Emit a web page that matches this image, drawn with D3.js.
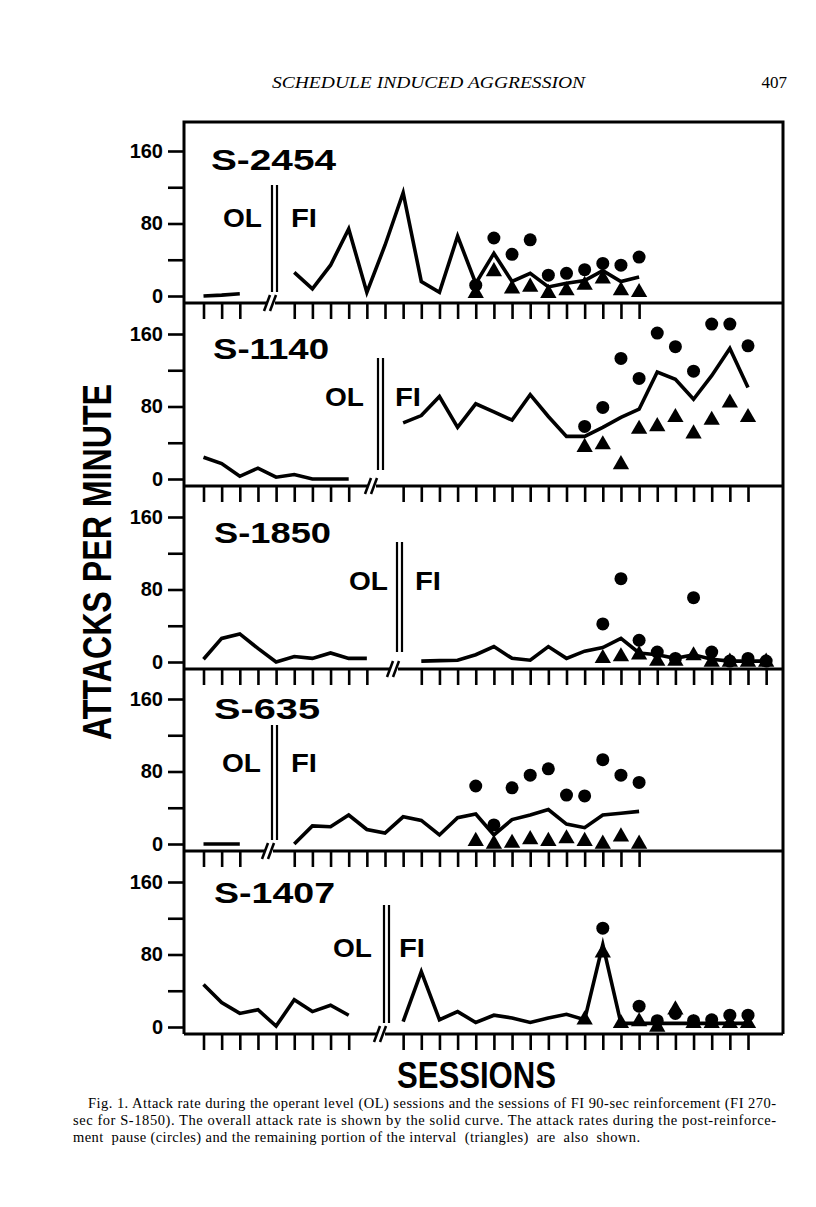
<!DOCTYPE html>
<html><head><meta charset="utf-8">
<script src="https://cdn.jsdelivr.net/npm/d3@7"></script>
<style>body{margin:0;background:#fff}</style>
</head><body><svg id="c" width="816" height="1207"></svg>
<script>
// ---------------- DATA ----------------
const subjects = ["S-2454", "S-1140", "S-1850", "S-635", "S-1407"];
// session index of first FI session and of first circle/triangle session
const fiStart  = [5, 11, 12, 5, 11];
const dotStart = [15, 21, 22, 15, 21];

// overall attack rate, operant level sessions
const ol_2454 = [0, 1, 2.5];
const ol_1140 = [24, 17, 3, 12, 2, 5, 0, 0, 0];
const ol_1850 = [3, 26, 31, 15, 0, 6, 4, 10, 4, 4];
const ol_635  = [0, 0, 0];
const ol_1407 = [47, 27, 15, 19, 1, 30, 17, 24, 13];

// overall attack rate, FI sessions
const fi_2454 = [26, 8, 34, 74, 4, 56, 114, 16, 4, 66, 14, 47, 16, 25, 10, 14, 17, 28, 16, 21];
const fi_1140 = [62, 70, 91, 57, 83, 74, 65, 93, 69, 47, 47, 57, 68, 77, 118, 110, 88, 114, 144, 101];
const fi_1850 = [1, 1.5, 2, 8, 17, 4, 2, 17, 4, 12, 16, 26, 10, 8, 4, 8, 3, 1, 1, 1];
const fi_635  = [0, 20, 19, 32, 16, 12, 30, 26, 10, 29, 33, 10, 27, 32, 38, 22, 18, 32, 34, 36];
const fi_1407 = [6, 61, 8, 17, 5, 13, 10, 5, 10, 14, 8, 91, 4, 4, 4, 4, 4, 4, 4, 4];

// post-reinforcement pause rate (circles)
const pause_2454 = [12, 64, 46, 62, 23, 25, 29, 36, 34, 43];
const pause_1140 = [58, 79, 133, 111, 161, 146, 119, 171, 171, 147];
const pause_1850 = [42, 92, 24, 11, 4, 71, 11, 1, 4, 1];
const pause_635  = [64, 21, 62, 76, 83, 54, 53, 93, 76, 68];
const pause_1407 = [null, 109, null, 23, 7, 15, 7, 8, 13, 13];

// remaining portion of interval (triangles)
const rest_2454 = [3, 27, 8, 10, 3, 6, 12, 19, 6, 4];
const rest_1140 = [35, 38, 16, 55, 58, 68, 50, 65, 84, 68];
const rest_1850 = [4, 6, 8, 1, 1, 7, 0, 0, 0, 0];
const rest_635  = [3, 0, 1, 5, 3, 6, 3, 0, 8, 0];
const rest_1407 = [8, 82, 4, 6, 0, 19, 4, 4, 4, 4];

const yTicks = [0, 40, 80, 120, 160];
const yTickLabels = ["0", "", "80", "", "160"];

const olSeries = [ol_2454, ol_1140, ol_1850, ol_635, ol_1407];
const fiSeries = [fi_2454, fi_1140, fi_1850, fi_635, fi_1407];
const pauseSeries = [pause_2454, pause_1140, pause_1850, pause_635, pause_1407];
const restSeries = [rest_2454, rest_1140, rest_1850, rest_635, rest_1407];

// ---------------- LAYOUT ----------------
const frameL = 184, frameR = 783, frameT = 122;
const bottoms = [303, 486, 669, 851, 1034];
const labelPos = [[211, 170, 125], [213, 359, 116], [214, 543, 117], [214, 719, 106], [214, 903, 121]];
const olPos = [[223, 227], [325, 406], [349, 590], [222, 772], [333, 957]];
const fiPos = [[291, 227], [395, 406], [415, 590], [291, 772], [399, 957]];
const dblPos = [[272, 185, 292], [378, 358, 470], [397, 542, 652], [272, 725, 840], [384, 905, 1023]];
const breakX = [272, 373, 395, 270, 382];

const svg = d3.select("#c");
svg.append("rect").attr("width", 816).attr("height", 1207).attr("fill", "#fff");

const x = d3.scaleLinear().domain([0, 31]).range([203.5, 203.5 + 31 * 18.15]);
const LF = "'Liberation Sans', Arial, sans-serif";

// header
svg.append("text").attr("x", 272).attr("y", 88).attr("textLength", 313).attr("lengthAdjust", "spacingAndGlyphs")
  .attr("font-family", "'Liberation Serif', serif").attr("font-style", "italic").attr("font-size", 17)
  .text("SCHEDULE INDUCED AGGRESSION");
svg.append("text").attr("x", 787).attr("y", 88).attr("text-anchor", "end")
  .attr("font-family", "'Liberation Serif', serif").attr("font-size", 17).text("407");

subjects.forEach((name, i) => {
  const B = bottoms[i];
  const y = d3.scaleLinear().domain([0, 160]).range([B - 7, B - 152]);
  const g = svg.append("g");

  // y axis ticks
  const ax = g.append("g").attr("transform", `translate(${frameL},0)`)
    .call(d3.axisLeft(y).tickValues(yTicks).tickSize(16).tickPadding(5)
      .tickFormat((d, j) => yTickLabels[j]));
  ax.select(".domain").remove();
  ax.selectAll("line").attr("stroke", "#000").attr("stroke-width", 2.6);
  ax.selectAll("text").attr("font-family", LF).attr("font-weight", "bold").attr("font-size", 20).attr("fill", "#000");

  // session ticks hanging below bottom border
  const sess = d3.range(olSeries[i].length).concat(d3.range(fiStart[i], fiStart[i] + fiSeries[i].length));
  const bx = g.append("g").attr("transform", `translate(0,${B})`)
    .call(d3.axisBottom(x).tickValues(sess).tickSize(16).tickFormat(""));
  bx.select(".domain").remove();
  bx.selectAll("line").attr("stroke", "#000").attr("stroke-width", 2.6);

  // bottom border
  g.append("line").attr("x1", frameL).attr("x2", frameR).attr("y1", B).attr("y2", B)
    .attr("stroke", "#000").attr("stroke-width", 3);
  // break marks
  const k = breakX[i];
  g.append("rect").attr("x", k - 5).attr("y", B - 3).attr("width", 8).attr("height", 6).attr("fill", "#fff");
  [0, 6].forEach(o => g.append("line").attr("x1", k - 8 + o).attr("y1", B + 8).attr("x2", k - 2 + o).attr("y2", B - 8)
    .attr("stroke", "#000").attr("stroke-width", 2.6));

  // subject label
  const lp = labelPos[i];
  g.append("text").attr("x", lp[0]).attr("y", lp[1]).attr("textLength", lp[2]).attr("lengthAdjust", "spacingAndGlyphs")
    .attr("font-family", LF).attr("font-weight", "bold").attr("font-size", 29).text(name);
  g.append("text").attr("x", olPos[i][0]).attr("y", olPos[i][1]).attr("textLength", 39).attr("lengthAdjust", "spacingAndGlyphs")
    .attr("font-family", LF).attr("font-weight", "bold").attr("font-size", 25).text("OL");
  g.append("text").attr("x", fiPos[i][0]).attr("y", fiPos[i][1]).attr("textLength", 26).attr("lengthAdjust", "spacingAndGlyphs")
    .attr("font-family", LF).attr("font-weight", "bold").attr("font-size", 25).text("FI");
  const d = dblPos[i];
  [0, 5].forEach(o => g.append("line").attr("x1", d[0] + o).attr("x2", d[0] + o).attr("y1", d[1]).attr("y2", d[2])
    .attr("stroke", "#000").attr("stroke-width", 2.2));

  const line = d3.line().x(p => x(p[0])).y(p => y(p[1]));
  const olPts = olSeries[i].map((v, j) => [j, v]);
  const fiPts = fiSeries[i].map((v, j) => [fiStart[i] + j, v]);
  [olPts, fiPts].forEach(pts => g.append("path").attr("d", line(pts)).attr("fill", "none")
    .attr("stroke", "#000").attr("stroke-width", 3.6).attr("stroke-linejoin", "miter").attr("stroke-miterlimit", 6));

  pauseSeries[i].forEach((v, j) => {
    if (v === null) return;
    g.append("circle").attr("cx", x(dotStart[i] + j)).attr("cy", y(v)).attr("r", 6.5).attr("fill", "#000");
  });
  const tri = d3.symbol().type(d3.symbolTriangle).size(115);
  restSeries[i].forEach((v, j) => {
    if (v === null) return;
    g.append("path").attr("d", tri()).attr("transform", `translate(${x(dotStart[i] + j)},${y(v)})`).attr("fill", "#000");
  });
});

// outer frame (left, right, top)
svg.append("path").attr("d", `M${frameL},${bottoms[4]}V${frameT}H${frameR}V${bottoms[4]}`)
  .attr("fill", "none").attr("stroke", "#000").attr("stroke-width", 3);

// axis titles
svg.append("text").attr("transform", "translate(111,562) rotate(-90)").attr("text-anchor", "middle")
  .attr("textLength", 356).attr("lengthAdjust", "spacingAndGlyphs")
  .attr("font-family", LF).attr("font-weight", "bold").attr("font-size", 40).text("ATTACKS PER MINUTE");
svg.append("text").attr("x", 397).attr("y", 1088).attr("textLength", 159).attr("lengthAdjust", "spacingAndGlyphs")
  .attr("font-family", LF).attr("font-weight", "bold").attr("font-size", 36).text("SESSIONS");

// caption
const cap = [
  [88, 1108, 688, "Fig. 1. Attack rate during the operant level (OL) sessions and the sessions of FI 90-sec reinforcement (FI 270-"],
  [73, 1125, 703, "sec for S-1850). The overall attack rate is shown by the solid curve. The attack rates during the post-reinforce-"],
  [73, 1142, 567, "ment  pause (circles) and the remaining portion of the interval  (triangles)  are  also  shown."]
];
cap.forEach(c => svg.append("text").attr("x", c[0]).attr("y", c[1]).attr("textLength", c[2]).attr("lengthAdjust", "spacing")
  .attr("font-family", "'Liberation Serif', serif").attr("font-size", 14.5).attr("xml:space", "preserve").text(c[3]));
</script></body></html>
